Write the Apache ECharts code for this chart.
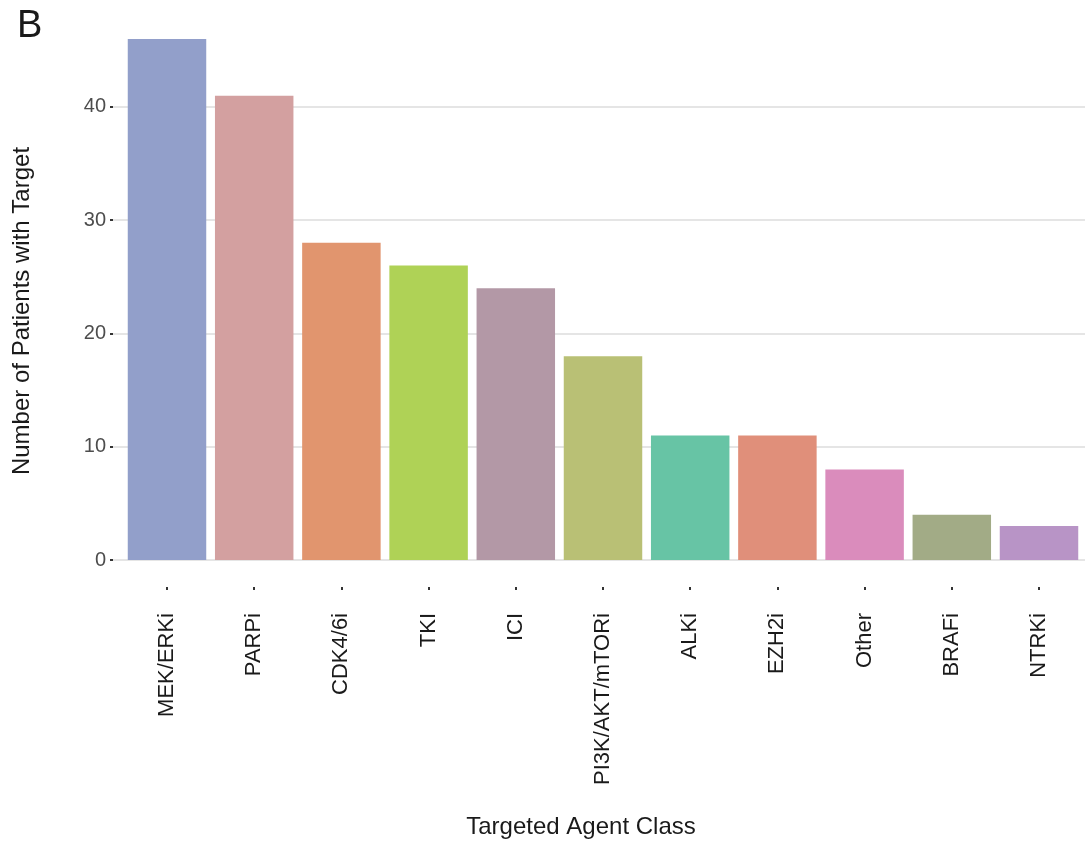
<!DOCTYPE html>
<html>
<head>
<meta charset="utf-8">
<script src="https://cdn.jsdelivr.net/npm/echarts@6/dist/echarts.min.js"></script>
<style>
  html, body { margin: 0; padding: 0; background: #fff; }
  #main { width: 1086px; height: 842px; }
</style>
</head>
<body>
<div id="main"></div>
<script>
  // data
  let classes = ['MEK/ERKi', 'PARPi', 'CDK4/6i', 'TKI', 'ICI', 'PI3K/AKT/mTORi', 'ALKi', 'EZH2i', 'Other', 'BRAFi', 'NTRKi']
  let patients = [46, 41, 28, 26, 24, 18, 11, 11, 8, 4, 3]
  let yTicks = [0, 10, 20, 30, 40]
  let barColors = ['#929fca', '#d3a0a0', '#e1956e', '#afd256', '#b398a6', '#b9c075', '#67c4a5', '#e08f7a', '#da8cbc', '#a2ab86', '#b894c6']

  let font = 'Liberation Sans, Arial, Helvetica, sans-serif'
  let chart = echarts.init(document.getElementById('main'))

  // grid 1 draws gridlines / y ticks over 0..46 (y 39..560)
  // grid 0 holds the bars and reaches down to the x ticks (y 587), so its
  // hidden y scale starts a bit below zero with the same px per unit
  let gridTop = 39
  let zeroY = 560
  let tickY = 587
  let yMax = 46
  let pxPerUnit = (zeroY - gridTop) / yMax
  let barMin = yMax - (tickY - gridTop) / pxPerUnit

  chart.setOption({
    animation: false,
    textStyle: { fontFamily: font },
    grid: [
      { left: 123.4, right: 3.4, top: gridTop, bottom: 842 - tickY, outerBoundsMode: 'none' },
      { left: 113, right: 1, top: gridTop, bottom: 842 - zeroY, outerBoundsMode: 'none' }
    ],
    xAxis: [
      {
        type: 'category',
        gridIndex: 0,
        data: classes,
        axisLine: { show: false, onZero: false },
        axisTick: { show: true, alignWithLabel: true, length: 3, lineStyle: { color: '#333', width: 2 } },
        axisLabel: { rotate: 90, interval: 0, margin: 26, color: '#1a1a1a', fontSize: 22, fontFamily: font }
      },
      {
        type: 'value',
        gridIndex: 1,
        show: false
      }
    ],
    yAxis: [
      {
        type: 'value',
        gridIndex: 0,
        min: barMin,
        max: yMax,
        show: false
      },
      {
        type: 'value',
        gridIndex: 1,
        min: 0,
        max: yMax,
        axisLine: { show: false },
        axisTick: { show: true, length: 3, customValues: yTicks, lineStyle: { color: '#333', width: 2 } },
        axisLabel: { margin: 7, customValues: yTicks, color: '#4d4d4d', fontSize: 20, fontFamily: font },
        splitLine: { show: true, lineStyle: { color: '#dcdcdc', width: 1.5 } }
      }
    ],
    graphic: [
      { type: 'text', left: 17, top: 8, style: { text: 'B', fontSize: 38, fill: '#1a1a1a', fontFamily: font } },
      {
        type: 'text', x: 22, y: 311, rotation: Math.PI / 2,
        style: { text: 'Number of Patients with Target', fontSize: 24, fill: '#1a1a1a', fontFamily: font, align: 'center', verticalAlign: 'middle' }
      },
      {
        type: 'text', x: 581, y: 827,
        style: { text: 'Targeted Agent Class', fontSize: 24, fill: '#1a1a1a', fontFamily: font, align: 'center', verticalAlign: 'middle' }
      }
    ],
    series: [
      {
        type: 'bar',
        xAxisIndex: 0,
        yAxisIndex: 0,
        barCategoryGap: '10%',
        data: patients.map(function (v, i) {
          return { value: v, itemStyle: { color: barColors[i] } }
        })
      }
    ]
  })
</script>
</body>
</html>
